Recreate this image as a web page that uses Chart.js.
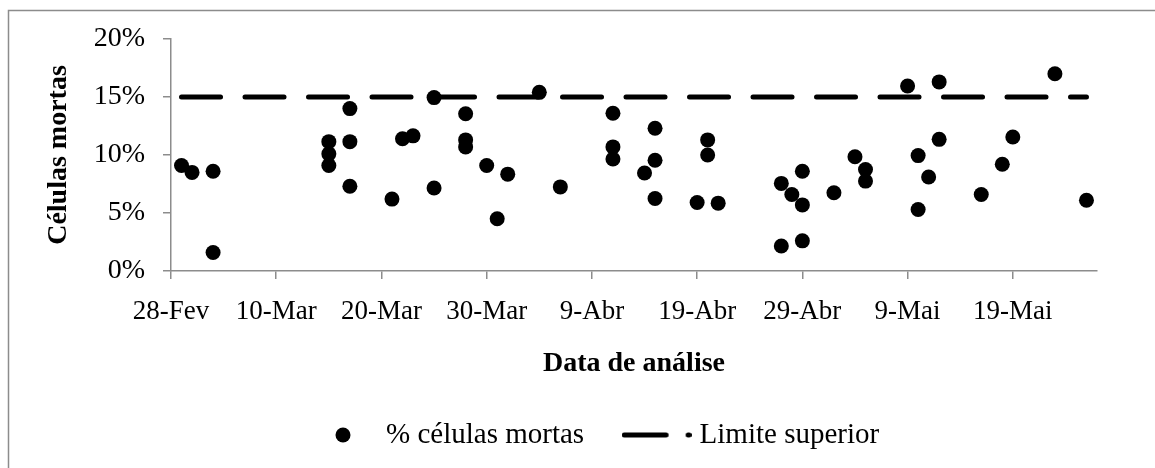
<!DOCTYPE html>
<html>
<head>
<meta charset="utf-8">
<script src="https://cdn.jsdelivr.net/npm/chart.js@4.4.0/dist/chart.umd.min.js"></script>
<style>
	body { margin: 0; background: #fff; }
	#wrap { width: 1155px; height: 468px; }
</style>
</head>
<body>
<div id="wrap"><canvas id="grafico" width="1155" height="468"></canvas></div>
<script>

// ----------------------- dados ----------------------------

var inicio = '2013-02-28';
var fim = '2013-05-27';

var tickLabels = ['28-Fev', '10-Mar', '20-Mar', '30-Mar', '9-Abr', '19-Abr', '29-Abr', '9-Mai', '19-Mai'];

var datas = [
	'2013-03-01', '2013-03-02', '2013-03-04', '2013-03-04',
	'2013-03-15', '2013-03-15', '2013-03-15',
	'2013-03-17', '2013-03-17', '2013-03-17',
	'2013-03-21', '2013-03-22', '2013-03-23',
	'2013-03-25', '2013-03-25',
	'2013-03-28', '2013-03-28', '2013-03-28',
	'2013-03-30', '2013-03-31', '2013-04-01', '2013-04-04', '2013-04-06',
	'2013-04-11', '2013-04-11', '2013-04-11',
	'2013-04-14', '2013-04-15', '2013-04-15', '2013-04-15',
	'2013-04-19', '2013-04-20', '2013-04-20', '2013-04-21',
	'2013-04-27', '2013-04-27', '2013-04-28',
	'2013-04-29', '2013-04-29', '2013-04-29',
	'2013-05-02', '2013-05-04', '2013-05-05', '2013-05-05',
	'2013-05-09', '2013-05-10', '2013-05-10', '2013-05-11',
	'2013-05-12', '2013-05-12',
	'2013-05-16', '2013-05-18', '2013-05-19', '2013-05-23', '2013-05-26'
];

var celulasMortas = [
	9.1, 8.5, 8.6, 1.6,
	11.15, 10.1, 9.1,
	14.0, 11.15, 7.3,
	6.2, 11.4, 11.65,
	14.95, 7.15,
	13.55, 11.3, 10.7,
	9.1, 4.5, 8.35, 15.4, 7.25,
	13.6, 10.7, 9.65,
	8.45, 12.3, 9.55, 6.25,
	5.9, 11.3, 10.0, 5.85,
	7.55, 2.15, 6.6,
	8.6, 5.7, 2.6,
	6.75, 9.85, 8.75, 7.75,
	15.95, 9.95, 5.3, 8.1,
	16.3, 11.35,
	6.6, 9.2, 11.55, 17.0, 6.1
];

var limiteSuperior = 15;

// ----------------------- helpers ----------------------------

var fonte = "'Liberation Serif', 'DejaVu Serif', serif";
var cinza = '#8c8c8c';

function dia(d) {
	return (Date.parse(d) - Date.parse(inicio)) / 86400000;
}

var pontos = datas.map(function(d, i) {
	return { x: dia(d), y: celulasMortas[i] };
});

var linhaLimite = [
	{ x: dia(datas[0]), y: limiteSuperior },
	{ x: dia(datas[datas.length - 1]), y: limiteSuperior }
];

// icones da legenda
function iconeCirculo() {
	var c = document.createElement('canvas');
	c.width = 16; c.height = 16;
	var g = c.getContext('2d');
	g.fillStyle = '#000';
	g.beginPath();
	g.arc(8, 8, 7.5, 0, Math.PI * 2);
	g.fill();
	return c;
}

function iconeTracejado() {
	var c = document.createElement('canvas');
	c.width = 70; c.height = 10;
	var g = c.getContext('2d');
	g.strokeStyle = '#000';
	g.lineWidth = 5;
	g.lineCap = 'round';
	g.setLineDash([42, 22]);
	g.beginPath();
	g.moveTo(2.5, 5);
	g.lineTo(67.5, 5);
	g.stroke();
	return c;
}

var icones = [iconeCirculo(), iconeTracejado()];

// ----------------------- plugins ----------------------------

var moldura = {
	id: 'moldura',
	beforeDraw: function(chart) {
		var ctx = chart.ctx;
		ctx.save();
		ctx.strokeStyle = cinza;
		ctx.lineWidth = 1.5;
		ctx.strokeRect(8.5, 10.5, chart.width, chart.height);
		ctx.restore();
	}
};

var LEG_PAD = 44, LEG_FONT = 29;

var posLegenda = {
	id: 'posLegenda',
	afterLayout: function(chart) {
		var lg = chart.legend;
		lg.left = 314.5 - LEG_PAD;
		lg.right = chart.width + 200;
		lg.top = 435 - LEG_PAD - LEG_FONT / 2;
		lg.bottom = lg.top + lg.height;
	}
};

// ----------------------- grafico ----------------------------

new Chart(document.getElementById('grafico').getContext('2d'), {
	type: 'scatter',
	data: {
		datasets: [
			{
				label: '% células mortas',
				data: pontos,
				backgroundColor: '#000',
				borderColor: '#000',
				pointRadius: 7.5,
				pointHoverRadius: 7.5,
				pointBorderWidth: 0
			},
			{
				label: 'Limite superior',
				data: linhaLimite,
				showLine: true,
				borderColor: '#000',
				borderWidth: 5,
				borderDash: [39, 24.5],
				borderCapStyle: 'round',
				pointRadius: 0,
				pointHoverRadius: 0
			}
		]
	},
	options: {
		responsive: false,
		animation: false,
		layout: { padding: { left: 0, right: 58, top: 39, bottom: 4 } },
		scales: {
			x: {
				type: 'linear',
				min: 0,
				max: dia(fim),
				afterFit: function(s) { s.height = 110; },
				grid: { drawOnChartArea: false, drawTicks: true, tickLength: 8, color: cinza, lineWidth: 1.5 },
				border: { display: true, color: cinza, width: 1.5 },
				ticks: {
					stepSize: 10,
					includeBounds: false,
					autoSkip: false,
					maxRotation: 0,
					padding: 17,
					color: '#000',
					font: { family: fonte, size: 27 },
					callback: function(v) { return tickLabels[v / 10]; }
				},
				title: {
					display: true,
					text: 'Data de análise',
					color: '#000',
					padding: { top: 0, bottom: 0 },
					font: { family: fonte, size: 28, weight: 'bold' }
				}
			},
			y: {
				min: 0,
				max: 20,
				afterFit: function(s) { s.width = 171; },
				grid: { drawOnChartArea: false, drawTicks: true, tickLength: 8, color: cinza, lineWidth: 1.5 },
				border: { display: true, color: cinza, width: 1.5 },
				ticks: {
					stepSize: 5,
					padding: 18,
					color: '#000',
					font: { family: fonte, size: 28 },
					callback: function(v) { return v + '%'; }
				},
				title: {
					display: true,
					text: 'Células mortas',
					color: '#000',
					padding: { top: 42, bottom: 0 },
					font: { family: fonte, size: 28, weight: 'bold' }
				}
			}
		},
		plugins: {
			tooltip: { enabled: false },
			legend: {
				position: 'bottom',
				align: 'start',
				labels: {
					usePointStyle: true,
					pointStyleWidth: 57,
					padding: LEG_PAD,
					color: '#000',
					font: { family: fonte, size: LEG_FONT },
					generateLabels: function(chart) {
						return chart.data.datasets.map(function(ds, i) {
							return {
								text: ds.label,
								pointStyle: icones[i],
								datasetIndex: i,
								hidden: false,
								lineWidth: 0,
								fillStyle: '#000',
								strokeStyle: '#000',
								fontColor: '#000'
							};
						});
					}
				}
			}
		}
	},
	plugins: [moldura, posLegenda]
});

</script>
</body>
</html>
